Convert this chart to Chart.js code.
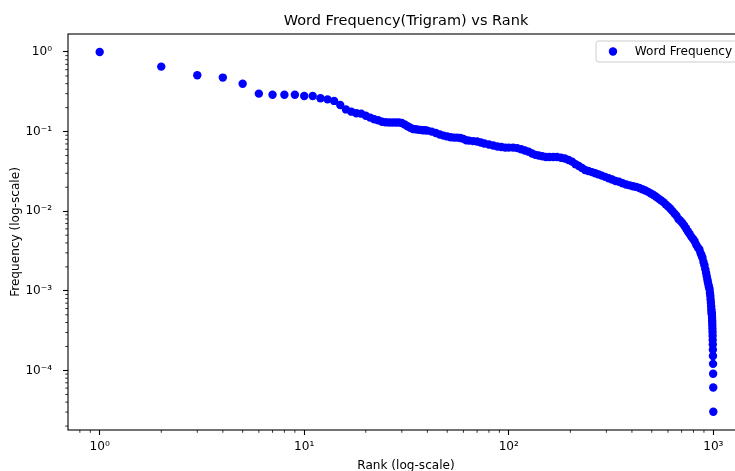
<!DOCTYPE html>
<html><head><meta charset="utf-8">
<script src="https://cdn.jsdelivr.net/npm/chart.js@4.4.1/dist/chart.umd.min.js"></script>
<style>
html,body{margin:0;padding:0;overflow:hidden;background:#fff;width:735px;height:471px}
#wrap{position:absolute;left:0;top:0;width:760px;height:480px}
</style>
</head><body><div id="wrap"><canvas id="c" width="760" height="480"></canvas></div>
<script>
const chartTitle = 'Word Frequency(Trigram) vs Rank';
const seriesLabel = 'Word Frequency';
const xAxisLabel = 'Rank (log-scale)';
const yAxisLabel = 'Frequency (log-scale)';

const ranks = [
  1,2,3,4,5,6,7,8,9,10,11,12,13,14,15,16,17,18,19,20,
  21,22,23,24,25,26,27,28,29,30,31,32,33,34,35,36,37,38,39,40,
  42,44,46,48,50,52,54,56,58,60,62,64,67,70,73,76,80,84,88,92,96,100,
  105,110,115,120,125,130,135,140,146,152,158,165,172,180,188,196,204,212,220,228,236,245,
  255,265,275,285,296,308,320,333,346,
  360,375,390,405,420,435,450,465,480,495,510,525,540,555,570,585,600,615,630,645,660,675,
  690,705,720,735,750,765,780,795,810,825,840,855,865,875,885,895,905,914,922,929,935,941,947,953,959,
  963,967,970,973,976,978,980,982,984,
  985,986,987,988,989,990,991,992,993,994,995,996,997,998,999,1000
];
const frequencies = [
  1.0,0.655,0.51,0.477,0.40,0.30,0.29,0.29,0.29,0.28,0.28,0.262,0.254,0.243,0.216,0.19,0.178,0.17,0.168,0.158,
  0.15,0.143,0.139,0.133,0.131,0.13,0.13,0.13,0.13,0.128,0.123,0.117,0.112,0.108,0.107,0.106,0.105,0.104,0.104,0.103,
  0.100,0.096,0.092,0.089,0.087,0.085,0.084,0.084,0.083,0.081,0.078,0.077,0.076,0.075,0.073,0.071,0.069,0.067,0.065,0.064,0.063,0.063,
  0.063,0.062,0.060,0.058,0.056,0.053,0.051,0.050,0.049,0.048,0.048,0.048,0.048,0.047,0.046,0.044,0.042,0.039,0.037,0.035,0.033,0.032,
  0.031,0.030,0.029,0.028,0.027,0.026,0.025,0.024,0.0235,
  0.0225,0.0217,0.0211,0.0206,0.0202,0.0196,0.0189,0.0182,0.0175,0.0167,0.0160,0.0152,0.0144,0.0137,0.0130,0.0122,0.0115,0.0108,0.0101,0.0094,0.0088,0.0080,
  0.0076,0.0071,0.0066,0.0061,0.0056,0.0052,0.0048,0.0045,0.0042,0.0038,0.0035,0.0033,0.0030,0.0028,0.0026,0.0023,0.0021,0.00186,0.00168,0.00152,0.00139,0.00128,0.00118,0.00111,0.00104,
  0.00094,0.00086,0.00078,0.00071,0.00064,0.000585,0.00055,0.00052,0.00051,
  4.85e-4,4.55e-4,4.24e-4,3.94e-4,3.64e-4,3.33e-4,3.03e-4,2.73e-4,2.42e-4,2.12e-4,1.82e-4,1.52e-4,1.21e-4,9.1e-5,6.1e-5,3.03e-5
];

const xRange = [0.7079, 1412.5];
const yRange = [1.786e-5, 1.683];
const xMajorTicks = [1, 10, 100, 1000];
const xTickLabels = ['10\u2070', '10\u00b9', '10\u00b2', '10\u00b3'];
const yMajorTicks = [1e-4, 1e-3, 1e-2, 1e-1, 1];
const yTickLabels = ['10\u207b\u2074', '10\u207b\u00b3', '10\u207b\u00b2', '10\u207b\u00b9', '10\u2070'];

const FONT = "'DejaVu Sans', sans-serif";

function minorTicks(range) {
  const out = [];
  const lo = Math.floor(Math.log10(range[0])), hi = Math.ceil(Math.log10(range[1]));
  for (let e = lo; e <= hi; e++) {
    for (let m = 2; m <= 9; m++) {
      const v = m * Math.pow(10, e);
      if (v >= range[0] && v <= range[1]) out.push(v);
    }
  }
  return out;
}
const xMinor = minorTicks(xRange);
const yMinor = minorTicks(yRange);

function majorIndex(list, v) {
  return list.findIndex(t => Math.abs(v / t - 1) < 1e-9);
}

const framePlugin = {
  id: 'frame',
  afterDraw(chart) {
    const {ctx, chartArea: a, scales} = chart;
    ctx.save();
    ctx.strokeStyle = '#000';
    ctx.lineWidth = 0.8;
    xMinor.forEach(v => {
      const x = scales.x.getPixelForValue(v);
      ctx.beginPath(); ctx.moveTo(x, a.bottom); ctx.lineTo(x, a.bottom + 2.8); ctx.stroke();
    });
    yMinor.forEach(v => {
      const y = scales.y.getPixelForValue(v);
      ctx.beginPath(); ctx.moveTo(a.left, y); ctx.lineTo(a.left - 2.8, y); ctx.stroke();
    });
    ctx.lineWidth = 1.1;
    ctx.strokeRect(a.left, a.top, a.right - a.left, a.bottom - a.top);

    // legend (matplotlib style, upper right inside axes)
    const ds = chart.data.datasets[0];
    const em = 12.1;
    ctx.font = em + 'px ' + FONT;
    const tw = ctx.measureText(ds.label).width;
    const bw = 0.4 * em + 2.0 * em + 0.8 * em + tw + 0.4 * em;
    const bh = 21;
    const bx = a.right - 7 - bw, by = a.top + 7;
    ctx.beginPath();
    if (ctx.roundRect) ctx.roundRect(bx, by, bw, bh, 2.4); else ctx.rect(bx, by, bw, bh);
    ctx.fillStyle = 'rgba(255,255,255,0.8)';
    ctx.fill();
    ctx.strokeStyle = '#cccccc';
    ctx.lineWidth = 1;
    ctx.stroke();
    const cy = by + bh / 2;
    ctx.beginPath();
    ctx.arc(bx + 0.4 * em + 1.0 * em, cy, 4.2, 0, Math.PI * 2);
    ctx.fillStyle = ds.backgroundColor;
    ctx.fill();
    ctx.fillStyle = '#000';
    ctx.textBaseline = 'middle';
    ctx.textAlign = 'left';
    ctx.fillText(ds.label, bx + 3.2 * em, cy);
    ctx.restore();
  }
};

new Chart(document.getElementById('c'), {
  type: 'scatter',
  data: {
    datasets: [{
      label: seriesLabel,
      data: ranks.map((r, i) => ({x: r, y: frequencies[i]})),
      backgroundColor: '#0000ff',
      borderColor: '#0000ff',
      borderWidth: 0,
      pointRadius: 4.2,
      pointHoverRadius: 4.2
    }]
  },
  options: {
    responsive: false,
    animation: false,
    devicePixelRatio: 1,
    layout: {padding: {left: 0, right: 16, top: 0, bottom: 0}},
    plugins: {
      legend: {display: false},
      tooltip: {enabled: false},
      title: {
        display: true, text: chartTitle, color: '#000', fullSize: false,
        font: {family: FONT, size: 14.5, weight: 'normal'},
        padding: {top: 12.3, bottom: 4.3}
      }
    },
    scales: {
      x: {
        type: 'logarithmic', position: 'bottom', min: xRange[0], max: xRange[1],
        afterBuildTicks: s => { s.ticks = xMajorTicks.concat(xMinor).sort((a, b) => a - b).map(v => ({value: v})); },
        afterFit: s => { s.height = 50; },
        ticks: {
          autoSkip: false, maxRotation: 0, minRotation: 0, color: '#000', padding: 4.7,
          font: {family: FONT, size: 12.1},
          callback: v => { const i = majorIndex(xMajorTicks, v); return i >= 0 ? xTickLabels[i] : ''; }
        },
        grid: {
          display: true, drawOnChartArea: false, drawTicks: true, tickLength: 5, tickWidth: 1.1,
          tickColor: c => (c.tick && majorIndex(xMajorTicks, c.tick.value) >= 0) ? '#000' : 'rgba(0,0,0,0)'
        },
        border: {display: false},
        title: {display: true, text: xAxisLabel, color: '#000', font: {family: FONT, size: 12.1}, padding: {top: 0, bottom: 6.7}}
      },
      y: {
        type: 'logarithmic', position: 'left', min: yRange[0], max: yRange[1],
        afterBuildTicks: s => { s.ticks = yMajorTicks.concat(yMinor).sort((a, b) => a - b).map(v => ({value: v})); },
        afterFit: s => { s.width = 68; },
        ticks: {
          autoSkip: false, color: '#000', padding: 11,
          font: {family: FONT, size: 12.1},
          callback: v => { const i = majorIndex(yMajorTicks, v); return i >= 0 ? yTickLabels[i] : ''; }
        },
        grid: {
          display: true, drawOnChartArea: false, drawTicks: true, tickLength: 5, tickWidth: 1.1,
          tickColor: c => (c.tick && majorIndex(yMajorTicks, c.tick.value) >= 0) ? '#000' : 'rgba(0,0,0,0)'
        },
        border: {display: false},
        title: {display: true, text: yAxisLabel, color: '#000', font: {family: FONT, size: 12.1}, padding: {top: 8.7, bottom: 0}}
      }
    }
  },
  plugins: [framePlugin]
});
</script>
</body></html>
